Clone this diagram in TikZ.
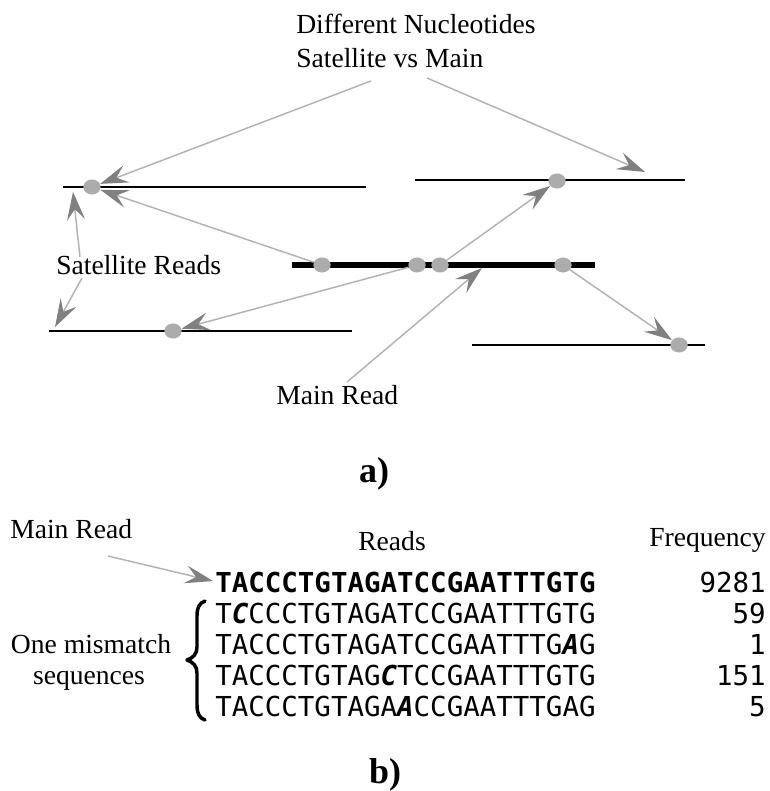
\documentclass[tikz,border=0pt]{standalone}
\usepackage{fontspec}
\setmainfont{Liberation Serif}
\newfontfamily\seqfont{DejaVu Sans Mono}
\usetikzlibrary{arrows.meta,shapes.geometric}
\definecolor{dotgray}{RGB}{172,172,172}
\definecolor{linkgray}{RGB}{178,178,178}
\definecolor{tipgray}{RGB}{128,128,128}
\tikzset{
  lbl/.style={font=\fontsize{20.7}{25.5}\selectfont, inner sep=0pt},
  seq/.style={font=\seqfont\fontsize{20.6}{24}\selectfont, inner sep=0pt, anchor=base west},
  freq/.style={font=\seqfont\fontsize{20.6}{24}\selectfont, inner sep=0pt, anchor=base east},
  satread/.style={line width=1.5pt, black},
  mainread/.style={line width=4.2pt, black},
  snp/.style={ellipse, fill=dotgray, minimum width=13pt, minimum height=11.3pt, inner sep=0pt},
  link/.style={draw=linkgray, line width=1.1pt,
    -{Stealth[length=21pt,width=13.5pt,inset=8pt,color=tipgray]}},
  panel/.style={font=\fontsize{27}{30}\selectfont\bfseries, inner sep=0pt, anchor=base},
  bracestroke/.style={line width=2.6pt, line cap=round, line join=round, black},
}
\newcommand{\mm}[1]{{\bfseries\itshape #1}}
\begin{document}
\begin{tikzpicture}[x=0.75pt,y=-0.75pt]
\useasboundingbox (0,0) rectangle (769,791);

% ---------- panel a: reads ----------
\coordinate (s1a) at (63,187);  \coordinate (s1b) at (366,187);
\coordinate (s2a) at (415,180); \coordinate (s2b) at (685,180);
\coordinate (ma)  at (292,265); \coordinate (mb)  at (595,265);
\coordinate (s3a) at (49,331);  \coordinate (s3b) at (352,331);
\coordinate (s4a) at (472,345); \coordinate (s4b) at (705,345);

\draw[satread] (s1a) -- (s1b);
\draw[satread] (s2a) -- (s2b);
\draw[mainread] (ma) -- (mb);
\draw[satread] (s3a) -- (s3b);
\draw[satread] (s4a) -- (s4b);

% differing nucleotides
\node[snp] (d1) at (92,187) {};
\node[snp] (d2) at (557,181) {};
\node[snp] (d3) at (173,331) {};
\node[snp] (d4) at (679,345) {};
\node[snp] (m1) at (322,265) {};
\node[snp] (m2) at (417,265) {};
\node[snp] (m3) at (440,265) {};
\node[snp] (m4) at (563,265) {};

% labels
\node[lbl, anchor=north west, align=left] (diff) at (296,14)
  {Different Nucleotides\\Satellite vs Main};
\node[lbl, anchor=base west] (satlbl) at (56,275) {Satellite Reads};
\node[lbl, anchor=base west] (mainlbl) at (276,404) {Main Read};
\node[panel] (pa) at (374,482) {a)};

% arrows
\coordinate (diffL) at (371,81);
\coordinate (diffR) at (427,78);
\coordinate (diffT) at (645,172);
\coordinate (satU0) at (80,257);
\coordinate (satU1) at (73,192);
\coordinate (satD0) at (82,278);
\coordinate (satD1) at (55,327);
\coordinate (mainS) at (347,382);
\coordinate (mainT) at (482,268);

\draw[link] (diffL) -- (d1);
\draw[link] (diffR) -- (diffT);
\draw[link] (m1) -- (d1);
\draw[link] (m2) -- (d3);
\draw[link] (m3) -- (d2);
\draw[link] (m4) -- (d4);
\draw[link] (satU0) -- (satU1);
\draw[link] (satD0) -- (satD1);
\draw[link] (mainS) -- (mainT);

% ---------- panel b: read table ----------
\node[lbl, anchor=base west] (mainlbl2) at (10,538) {Main Read};
\node[lbl, anchor=base] (readshd) at (392,550) {Reads};
\node[lbl, anchor=base east] (freqhd) at (766,546) {Frequency};

\node[seq] (r0) at (215,592) {\bfseries TACCCTGTAGATCCGAATTTGTG};
\node[seq] (r1) at (215,623) {T\mm{C}CCCTGTAGATCCGAATTTGTG};
\node[seq] (r2) at (215,654) {TACCCTGTAGATCCGAATTTG\mm{A}G};
\node[seq] (r3) at (215,685) {TACCCTGTAG\mm{C}TCCGAATTTGTG};
\node[seq] (r4) at (215,716) {TACCCTGTAGA\mm{A}CCGAATTTGAG};

\node[freq] (f0) at (766,592) {9281};
\node[freq] (f1) at (766,623) {59};
\node[freq] (f2) at (766,654) {1};
\node[freq] (f3) at (766,685) {151};
\node[freq] (f4) at (766,716) {5};

\coordinate (mr2S) at (108,556);
\coordinate (mr2T) at (213,581);
\draw[link] (mr2S) -- (mr2T);

% curly brace grouping the one-mismatch rows
\draw[bracestroke] (205,601) .. controls (199,603) and (197,608) .. (197,616)
  -- (197,647) .. controls (197,654) and (193,658) .. (187,660)
  .. controls (193,662) and (197,666) .. (197,673)
  -- (197,705) .. controls (197,713) and (199,718) .. (205,720);

\node[lbl, anchor=base] (onemm) at (91,653) {One mismatch};
\node[lbl, anchor=base] (seqs) at (89,684) {sequences};

\node[panel] (pb) at (385,783) {b)};
\end{tikzpicture}
\end{document}
